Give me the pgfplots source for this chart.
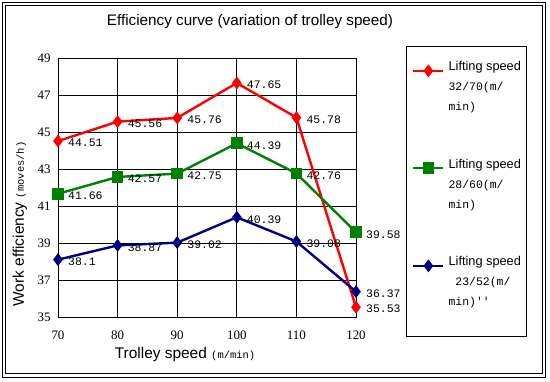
\documentclass[border=0pt]{standalone}
\usepackage{fontspec}
\setmainfont{Liberation Sans}
\newfontfamily\monof{Liberation Mono}
\newfontfamily\seriff{Liberation Serif}
\usepackage{pgfplots}
\pgfplotsset{compat=1.18}
\usepackage{pgfplotstable}
\definecolor{cred}{RGB}{255,0,0}
\definecolor{cgreen}{RGB}{0,128,0}
\definecolor{cnavy}{RGB}{0,0,128}

\pgfplotstableread{
x y lab
70 44.51 44.51
80 45.56 45.56
90 45.76 45.76
100 47.65 47.65
110 45.78 45.78
120 35.53 35.53
}\redtab
\pgfplotstableread{
x y lab
70 41.66 41.66
80 42.57 42.57
90 42.75 42.75
100 44.39 44.39
110 42.76 42.76
120 39.58 39.58
}\greentab
\pgfplotstableread{
x y lab
70 38.1 38.1
80 38.87 38.87
90 39.02 39.02
100 40.39 40.39
110 39.08 39.08
120 36.37 36.37
}\bluetab

\newcommand{\lm}{\monof\fontsize{11.5}{20}\selectfont}

\begin{document}
\begin{tikzpicture}
\fill[white] (-58bp,-65bp) rectangle (492bp,317bp);
\useasboundingbox (-58bp,-65bp) rectangle (492bp,317bp);
\draw[line width=0.8bp] (-56bp,-60bp) rectangle (487bp,315bp);
\draw[line width=0.8bp] (-53bp,-56bp) rectangle (484bp,312bp);
\begin{axis}[
  at={(0,0)}, anchor=south west,
  scale only axis, width=298bp, height=259bp,
  xmin=70, xmax=120, ymin=35, ymax=49,
  xtick={70,80,...,120}, ytick={35,37,...,49},
  grid=major,
  major grid style={black, line width=0.7bp},
  axis line style={black, line width=0.7bp},
  tick style={draw=none},
  ticklabel style={font=\fontsize{13}{15}\seriff},
  /pgf/number format/assume math mode=true,
  yticklabel style={xshift=-4bp},
  xticklabel style={yshift=-10bp},
  clip=false,
  nodes near coords,
  point meta=explicit symbolic,
  nodes near coords style={anchor=west, xshift=8bp, yshift=-2bp, inner sep=1bp,
     font=\monof\fontsize{11.5}{12}\selectfont, text=black},
  legend style={draw=none, fill=none, at={(1.188,1.005)}, anchor=north west,
     inner sep=0pt, column sep=4bp, row sep=79bp,
     nodes={inner sep=0pt},
     cells={anchor=base west},
     font=\fontsize{12.8}{20}\selectfont},
  legend image code/.code={\draw[mark repeat=2,mark phase=2] plot coordinates {(0bp,0bp) (15bp,0bp) (30bp,0bp)};},
]
\addplot[cred, line width=2.4bp, mark=diamond*, mark size=4.5bp, mark options={solid}] table[x=x,y=y,meta=lab] {\redtab};
\addlegendentry{\begin{tabular}[t]{@{}l@{}}Lifting speed\\ {\lm 32/70(m/}\\ {\lm min)}\end{tabular}}
\addplot[cgreen, line width=2.4bp, mark=square*, mark size=4.6bp, mark options={solid}] table[x=x,y=y,meta=lab] {\greentab};
\addlegendentry{\begin{tabular}[t]{@{}l@{}}Lifting speed\\ {\lm 28/60(m/}\\ {\lm min)}\end{tabular}}
\addplot[cnavy, line width=2.4bp, mark=diamond*, mark size=4.5bp, mark options={solid}] table[x=x,y=y,meta=lab] {\bluetab};
\addlegendentry{\begin{tabular}[t]{@{}l@{}}Lifting speed\\ {\lm\ 23/52(m/}\\ {\lm min)''}\end{tabular}}
\end{axis}
\draw[line width=0.8bp] (348bp,271bp) rectangle (468bp,-19bp);
\node[font=\fontsize{15.3}{18}\selectfont] at (192bp,295bp) {Efficiency curve (variation of trolley speed)};
\node[rotate=90, font=\fontsize{15.5}{18}\selectfont] at (-38bp,93bp) {Work efficiency {\monof\fontsize{10.5}{12}\selectfont (moves/h)}};
\node[font=\fontsize{15.5}{18}\selectfont] at (127bp,-38bp) {Trolley speed {\monof\fontsize{10.5}{12}\selectfont (m/min)}};
\end{tikzpicture}
\end{document}
